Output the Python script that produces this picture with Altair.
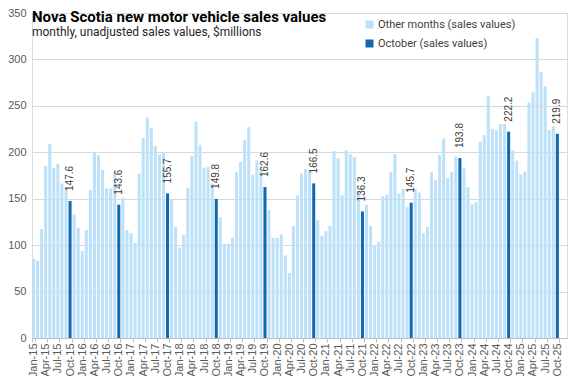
import altair as alt
import pandas as pd

# ---- data ----
mon_names = ["Jan", "Feb", "Mar", "Apr", "May", "Jun", "Jul", "Aug", "Sep", "Oct", "Nov", "Dec"]
years = list(range(2015, 2026))

v2015 = [85.5, 83.3, 117.4, 185.5, 208.9, 183.3, 187.6, 166.3, 160.6, 147.6, 133.0, 118.4]
v2016 = [93.6, 116.3, 159.6, 199.3, 196.8, 180.9, 161.0, 161.0, 178.0, 143.6, 151.0, 116.3]
v2017 = [113.0, 102.5, 177.0, 215.3, 237.6, 226.2, 206.7, 197.5, 199.3, 155.7, 149.6, 119.5]
v2018 = [97.5, 111.0, 162.0, 196.0, 233.2, 208.0, 183.3, 184.4, 166.3, 149.8, 130.0, 101.4]
v2019 = [101.4, 108.0, 179.0, 189.7, 212.8, 227.0, 176.0, 191.0, 182.0, 162.6, 137.6, 107.8]
v2020 = [107.8, 111.7, 89.0, 70.0, 120.6, 153.6, 177.3, 182.0, 179.0, 166.5, 127.0, 110.0]
v2021 = [115.3, 120.6, 201.4, 193.3, 153.6, 202.0, 198.0, 194.7, 158.0, 136.3, 143.6, 120.6]
v2022 = [100.0, 103.6, 152.5, 154.3, 179.0, 198.2, 155.7, 160.6, 140.8, 145.7, 160.6, 156.7]
v2023 = [113.0, 119.5, 178.4, 170.0, 197.0, 215.0, 172.4, 178.6, 195.4, 193.8, 182.6, 162.4]
v2024 = [144.0, 146.5, 211.3, 218.4, 260.3, 225.2, 223.8, 230.5, 230.5, 222.2, 202.1, 191.1]
v2025 = [176.2, 179.0, 253.5, 264.5, 323.0, 286.5, 271.0, 223.8, 228.0, 219.9]

yearly = [v2015, v2016, v2017, v2018, v2019, v2020, v2021, v2022, v2023, v2024, v2025]

OTHER = "Other months (sales values)"
OCT = "October (sales values)"
LIGHT = "#BDE1F8"
DARK = "#1169B0"

TITLE = "Nova Scotia new motor vehicle sales values"
SUBTITLE = "monthly, unadjusted sales values, $millions"

# full category axis runs through Dec-25 (Nov/Dec-25 empty)
months = [f"{m}-{str(y)[2:]}" for y in years for m in mon_names]
label_months = months[::3]

rows = []
for y, vals in zip(years, yearly):
    for m, v in zip(mon_names, vals):
        rows.append({"month": f"{m}-{str(y)[2:]}", "value": v,
                     "series": OCT if m == "Oct" else OTHER})
df = pd.DataFrame(rows)

LAB = "Liberation Sans"
TXT = "Roboto"

x = alt.X("month:N", sort=months,
          scale=alt.Scale(domain=months, paddingInner=0.25, paddingOuter=0),
          axis=alt.Axis(values=label_months, labelAngle=270, title=None,
                        labelFont=LAB, labelFontSize=11, labelColor="#595959",
                        labelPadding=1, tickSize=4, tickColor="#BFBFBF",
                        tickBand="extent", domainColor="#BFBFBF", grid=False,
                        labelAlign="right", labelBaseline="middle"))
y = alt.Y("value:Q",
          scale=alt.Scale(domain=[0, 350], nice=False, zero=True),
          axis=alt.Axis(values=list(range(0, 351, 50)), title=None, grid=True,
                        gridColor="#D9D9D9", domain=False, ticks=False,
                        labelFont=LAB, labelFontSize=11, labelColor="#595959",
                        labelPadding=6))

bars = alt.Chart(df).mark_bar().encode(
    x=x, y=y,
    color=alt.Color("series:N",
                    scale=alt.Scale(domain=[OTHER, OCT], range=[LIGHT, DARK]),
                    legend=alt.Legend(orient="none", legendX=332, legendY=6,
                                      title=None, symbolType="square",
                                      symbolSize=64, symbolStrokeWidth=0,
                                      labelFont=TXT, labelFontSize=11,
                                      labelColor="#404040", labelOffset=3,
                                      rowPadding=7, padding=0)),
)

labels = alt.Chart(df).transform_filter(
    alt.datum.series == OCT
).mark_text(angle=270, align="left", baseline="middle", dx=10,
            font=LAB, fontSize=10, color="#404040").encode(
    x=x, y=y, text=alt.Text("value:Q", format=".1f"))

head = pd.DataFrame({"t": [TITLE], "s": [SUBTITLE]})
title = alt.Chart(head).mark_text(align="left", baseline="alphabetic",
                                  font=TXT, fontSize=15, fontWeight="bold",
                                  color="#000000").encode(
    x=alt.value(0), y=alt.value(9), text="t:N")
subtitle = alt.Chart(head).mark_text(align="left", baseline="alphabetic",
                                     font=TXT, fontSize=12,
                                     color="#262626").encode(
    x=alt.value(0), y=alt.value(23), text="s:N")

chart = alt.layer(bars, labels, title, subtitle).properties(
    width=535, height=325,
    autosize=alt.AutoSizeParams(type="none"),
    padding={"left": 24, "top": 5, "right": 2, "bottom": 38},
).configure_view(stroke=None).configure(background="white")

chart.save("out.html", embed_options={"renderer": "svg", "actions": False})
